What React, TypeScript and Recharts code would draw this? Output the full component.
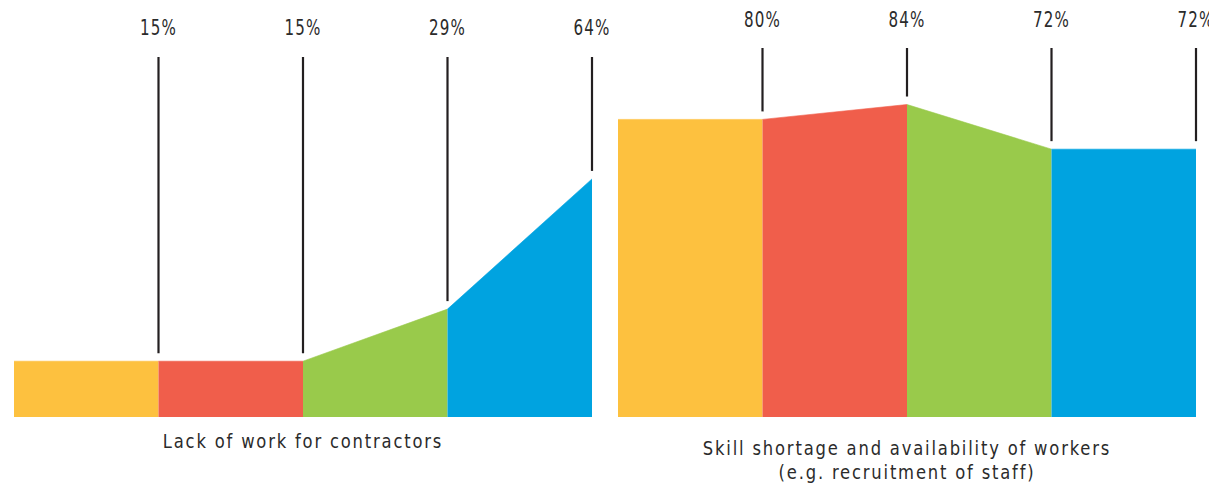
import { AreaChart, Area, Line, XAxis, YAxis } from 'recharts'

const panelTitles = [
  ['Lack of work for contractors'],
  ['Skill shortage and availability of workers', '(e.g. recruitment of staff)'],
]
const lackOfWork = [15, 15, 29, 64]
const skillShortage = [80, 84, 72, 72]
const segmentColors = ['#FDC13F', '#F05E4B', '#99CA4B', '#00A3E0']

const FONT = "'DejaVu Sans Condensed', 'DejaVu Sans', sans-serif"
const INK = '#2b2b2b'

// five boundary points; each coloured segment spans two neighbours
function buildRows(values: number[]) {
  const pts = [values[0], ...values]
  return pts.map((v, i) => {
    const row: Record<string, number | null> = { x: i, mark: i > 0 ? v : null }
    segmentColors.forEach((_, k) => {
      row[`s${k}`] = i === k || i === k + 1 ? v : null
    })
    return row
  })
}

interface PanelProps {
  values: number[]
  title: string[]
  left: number
  width: number
  marginLeft: number
  marginRight: number
  lineTop: number
  labelY: number
  titleY: number
}

function Panel({ values, title, left, width, marginLeft, marginRight, lineTop, labelY, titleY }: PanelProps) {
  const rows = buildRows(values)

  const renderMarker = (props: any) => {
    const { cx, cy, index, payload } = props
    if (payload.mark == null || cy == null) return <g key={index} />
    return (
      <g key={index}>
        <line x1={cx} x2={cx} y1={lineTop} y2={cy - 8} stroke="#231f20" strokeWidth={2.2} />
        {/* narrow the glyphs to a condensed look */}
        <text
          transform={`translate(${cx} ${labelY}) scale(0.8 1)`}
          x={0}
          y={0}
          textAnchor="middle"
          fontFamily={FONT}
          fontSize={21}
          letterSpacing={1.5}
          fill={INK}
        >
          {payload.mark}%
        </text>
      </g>
    )
  }

  const renderTitle = (props: any) => {
    const { viewBox } = props
    const cx = viewBox.x + viewBox.width / 2
    return (
      <text
        transform={`translate(${cx} ${viewBox.y + titleY}) scale(0.91 1)`}
        x={0}
        y={0}
        textAnchor="middle"
        fontFamily={FONT}
        fontSize={20}
        letterSpacing={2}
        fill={INK}
      >
        {title.map((t, i) => (
          <tspan key={i} x={0} dy={i === 0 ? 0 : 24}>
            {t}
          </tspan>
        ))}
      </text>
    )
  }

  return (
    <div style={{ position: 'absolute', left, top: 0 }}>
      <AreaChart
        width={width}
        height={491}
        data={rows}
        margin={{ top: 45, right: marginRight, bottom: 0, left: marginLeft }}
      >
        <XAxis
          dataKey="x"
          type="number"
          domain={[0, 4]}
          height={74}
          axisLine={false}
          tickLine={false}
          tick={false}
          label={renderTitle}
        />
        <YAxis type="number" domain={[0, 100]} hide />
        {segmentColors.map((c, k) => (
          <Area
            key={k}
            dataKey={`s${k}`}
            type="linear"
            fill={c}
            fillOpacity={1}
            stroke={c}
            strokeWidth={0.6}
            isAnimationActive={false}
          />
        ))}
        <Line
          dataKey="mark"
          stroke="none"
          dot={renderMarker}
          activeDot={false}
          isAnimationActive={false}
        />
      </AreaChart>
    </div>
  )
}

export default function App() {
  return (
    <div style={{ position: 'relative', width: 1217, height: 491, margin: -8, background: '#fff' }}>
      <style>{'.recharts-surface { overflow: visible; }'}</style>
      <Panel
        values={lackOfWork}
        title={panelTitles[0]}
        left={0}
        width={606}
        marginLeft={14}
        marginRight={14}
        lineTop={57}
        labelY={35}
        titleY={31}
      />
      <Panel
        values={skillShortage}
        title={panelTitles[1]}
        left={604}
        width={613}
        marginLeft={14}
        marginRight={21}
        lineTop={48}
        labelY={27}
        titleY={38}
      />
    </div>
  )
}
